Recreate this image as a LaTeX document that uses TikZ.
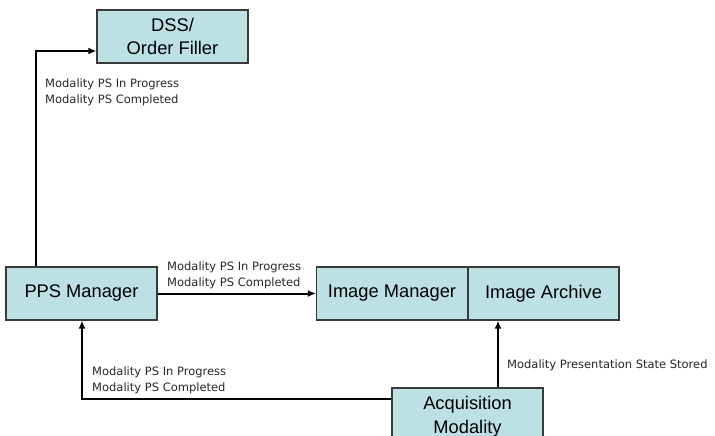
\documentclass[tikz,border=0pt]{standalone}
\usepackage{fontspec}
\setmainfont{Liberation Sans}
\newfontfamily\smallfont{DejaVu Sans}
\usetikzlibrary{arrows.meta}
\definecolor{boxfill}{HTML}{BCE0E4}
\definecolor{boxline}{HTML}{3A3A3A}
\tikzset{
  blk/.style={draw=boxline, line width=1.2pt, fill=boxfill, minimum width=151pt, minimum height=53pt, inner sep=0pt, align=center, font=\fontsize{18.3}{23.5}\selectfont},
  conn/.style={line width=2pt, -{Latex[length=8pt,width=7pt]}},
  lbl/.style={font=\smallfont\fontsize{11.5}{16}\selectfont, align=left, anchor=north west, inner sep=0pt, text=black!85}
}
\begin{document}
\begin{tikzpicture}[x=1pt,y=-1pt]
\useasboundingbox (0,0) rectangle (715,436);
\node[blk] (dss) at (172.5,36.5) {DSS/\\Order Filler};
\node[blk] (pps) at (81.5,293.5) {PPS Manager};
\node[blk] (im) at (392,293.5) {Image Manager};
\node[blk] (ia) at (543.5,293.5) {Image Archive};
\node[blk, minimum height=58pt] (acq) at (467.5,417) {Acquisition\\Modality};
\coordinate (c1) at (36,51);
\coordinate (c2) at (82,399);
\draw[conn] (pps.north -| c1) -- (c1) -- (c1 -| dss.west);
\draw[conn] (pps.east) -- (im.west);
\draw[conn] (acq.north -| 498,0) -- (ia.south -| 498,0);
\draw[conn] (acq.west |- c2) -- (c2) -- (pps.south -| c2);
\node[lbl] (l1) at (45,79) {Modality PS In Progress\\Modality PS Completed};
\node[lbl] (l2) at (167,262) {Modality PS In Progress\\Modality PS Completed};
\node[lbl] (l3) at (92,367) {Modality PS In Progress\\Modality PS Completed};
\node[lbl] (l4) at (507,360) {Modality Presentation State Stored};
\end{tikzpicture}
\end{document}
